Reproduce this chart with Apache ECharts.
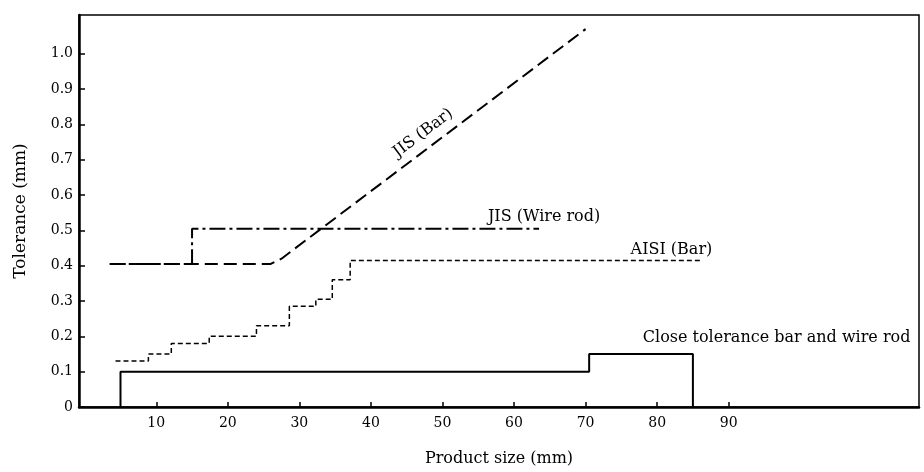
<!DOCTYPE html>
<html>
<head>
<meta charset="utf-8">
<script src="https://cdn.jsdelivr.net/npm/echarts@6/dist/echarts.min.js"></script>
<style>
  html, body { margin: 0; padding: 0; background: #fff; }
  #main { width: 924px; height: 472px; }
</style>
</head>
<body>
<div id="main"></div>
<script>
// axis ticks
var xTicks = [10, 20, 30, 40, 50, 60, 70, 80, 90];
var yTicks = [0, 0.1, 0.2, 0.3, 0.4, 0.5, 0.6, 0.7, 0.8, 0.9, 1.0];

// JIS (Bar): flat then linear rise
var jisBarX = [3.5, 26, 27.5, 70];
var jisBarY = [0.405, 0.405, 0.42, 1.07];

// JIS (Wire rod): one step at 15 mm
var jisWireX = [3.5, 15, 15, 63.5];
var jisWireY = [0.405, 0.405, 0.505, 0.505];

// AISI (Bar): staircase, edges and level of each step
var aisiEdges = [4.3, 8.9, 12.1, 17.4, 24, 28.6, 32.3, 34.6, 37.1, 86];
var aisiVals = [0.13, 0.15, 0.18, 0.2, 0.23, 0.285, 0.305, 0.36, 0.415];

// Close tolerance bar and wire rod
var closeEdges = [5, 70.5, 85];
var closeVals = [0.1, 0.15];

// label names and where they sit (data coords)
var labelNames = ['JIS (Bar)', 'JIS (Wire rod)', 'AISI (Bar)', 'Close tolerance bar and wire rod'];
var labelX = [47.3, 64.2, 82.0, 96.7];
var labelY = [0.776, 0.539, 0.446, 0.195];

var FONT = 'DejaVu Serif';

function zip(xs, ys) {
    return xs.map(function (x, i) { return [x, ys[i]]; });
}

function steps(edges, vals, drop) {
    var pts = [];
    if (drop) pts.push([edges[0], 0]);
    for (var i = 0; i < vals.length; i++) {
        pts.push([edges[i], vals[i]]);
        pts.push([edges[i + 1], vals[i]]);
    }
    if (drop) pts.push([edges[edges.length - 1], 0]);
    return pts;
}

function tag(i, rot) {
    return {
        symbol: 'rect',
        symbolSize: 1,
        silent: true,
        itemStyle: { color: 'rgba(0,0,0,0)' },
        label: {
            show: true,
            position: 'inside',
            formatter: labelNames[i],
            color: '#000',
            fontFamily: FONT,
            fontSize: 16,
            rotate: rot || 0
        },
        data: [{ coord: [labelX[i], labelY[i]] }]
    };
}

var chartDom = document.getElementById('main');
var myChart = echarts.init(chartDom);
var option = {
    backgroundColor: '#fff',
    animation: false,
    grid: {
        left: 79,
        right: 5,
        top: 15,
        bottom: 63,
        show: true,
        borderColor: '#000',
        borderWidth: 1.5
    },
    xAxis: {
        type: 'value',
        min: -0.8,
        max: 116.6,
        name: 'Product size (mm)',
        nameLocation: 'middle',
        nameGap: 44,
        nameTextStyle: { color: '#000', fontFamily: FONT, fontSize: 16 },
        axisLine: { show: true, onZero: false, lineStyle: { color: '#000', width: 2.5 } },
        axisTick: { show: true, inside: true, length: 5, customValues: xTicks, lineStyle: { color: '#000', width: 1.5 } },
        axisLabel: { customValues: xTicks, color: '#000', fontFamily: FONT, fontSize: 14, margin: 9 },
        splitLine: { show: false }
    },
    yAxis: {
        type: 'value',
        min: 0,
        max: 1.11,
        name: 'Tolerance (mm)',
        nameLocation: 'middle',
        nameGap: 50,
        nameTextStyle: { color: '#000', fontFamily: FONT, fontSize: 17 },
        axisLine: { show: true, onZero: false, lineStyle: { color: '#000', width: 2.5 } },
        axisTick: { show: true, inside: true, length: 6, customValues: yTicks, lineStyle: { color: '#000', width: 1.5 } },
        axisLabel: {
            customValues: yTicks,
            color: '#000',
            fontFamily: FONT,
            fontSize: 14,
            margin: 6,
            formatter: function (v) { return v === 0 ? '0' : v.toFixed(1); }
        },
        splitLine: { show: false }
    },
    series: [
        {
            name: 'JIS (Bar)',
            type: 'line',
            symbol: 'none',
            data: zip(jisBarX, jisBarY),
            lineStyle: { color: '#000', width: 2, type: [13, 6] },
            markPoint: tag(0, 37)
        },
        {
            name: 'JIS (Wire rod)',
            type: 'line',
            symbol: 'none',
            data: zip(jisWireX, jisWireY),
            lineStyle: { color: '#000', width: 2, type: [16, 4, 3, 4] },
            markPoint: tag(1)
        },
        {
            name: 'AISI (Bar)',
            type: 'line',
            symbol: 'none',
            data: steps(aisiEdges, aisiVals, false),
            lineStyle: { color: '#000', width: 1.5, type: [5, 3] },
            markPoint: tag(2)
        },
        {
            name: 'Close tolerance bar and wire rod',
            type: 'line',
            symbol: 'none',
            data: steps(closeEdges, closeVals, true),
            lineStyle: { color: '#000', width: 2 },
            markPoint: tag(3)
        }
    ]
};
myChart.setOption(option);
</script>
</body>
</html>
